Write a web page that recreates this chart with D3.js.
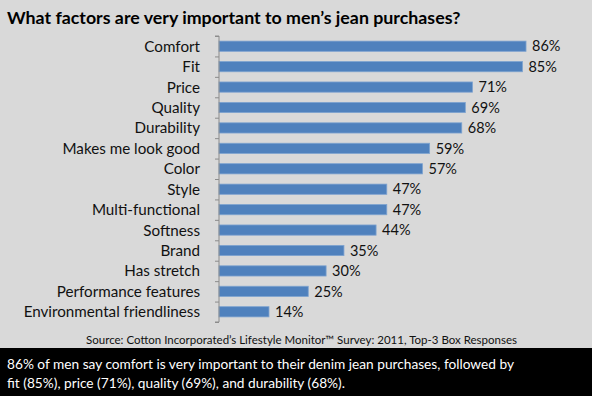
<!DOCTYPE html>
<html>
<head>
<meta charset="utf-8">
<script src="https://cdn.jsdelivr.net/npm/d3@7"></script>
<style>
  body { margin: 0; background: #d9d9d9; }
  svg { display: block; }
</style>
</head>
<body>
<svg id="chart" width="592" height="396"></svg>
<script>
const categories = ["Comfort", "Fit", "Price", "Quality", "Durability", "Makes me look good", "Color",
  "Style", "Multi-functional", "Softness", "Brand", "Has stretch", "Performance features", "Environmental friendliness"];
const values = [86, 85, 71, 69, 68, 59, 57, 47, 47, 44, 35, 30, 25, 14];

const title = "What factors are very important to men\u2019s jean purchases?";
const source = "Source: Cotton Incorporated\u2019s Lifestyle Monitor\u2122 Survey: 2011, Top-3 Box Responses";
const note = ["86% of men say comfort is very important to their denim jean purchases, followed by",
  "fit (85%), price (71%), quality (69%), and durability (68%)."];

const svg = d3.select("#chart");
const width = +svg.attr("width");
const height = +svg.attr("height");
const font = "Lato, 'Open Sans', sans-serif";

svg.append("rect").attr("width", width).attr("height", height).attr("fill", "#d9d9d9");

const margin = { top: 36, left: 219 };
const xScale = d3.scaleLinear().domain([0, 100]).range([margin.left, margin.left + 357]);
const yScale = d3.scaleBand().domain(categories).range([36, 322]).paddingInner(0.5).paddingOuter(0.25);

// title
svg.append("text")
  .attr("x", 7).attr("y", 24)
  .attr("font-family", font).attr("font-weight", "bold").attr("font-size", 17.8)
  .attr("fill", "#000")
  .text(title);

// bars
svg.selectAll("rect.bar")
  .data(values)
  .enter()
  .append("rect")
  .attr("class", "bar")
  .attr("x", xScale(0))
  .attr("y", (d, i) => yScale(categories[i]))
  .attr("width", d => xScale(d) - xScale(0))
  .attr("height", yScale.bandwidth())
  .attr("fill", "#4f81bd")
  .attr("stroke", "#7ea3d0")
  .attr("stroke-width", 0.8);

// value labels
svg.selectAll("text.val")
  .data(values)
  .enter()
  .append("text")
  .attr("class", "val")
  .attr("x", d => xScale(d) + 6)
  .attr("y", (d, i) => yScale(categories[i]) + yScale.bandwidth() / 2)
  .attr("dy", "0.36em")
  .attr("font-family", font).attr("font-size", 14.5)
  .attr("fill", "#111")
  .text(d => d + "%");

// y axis
const yAxisScale = d3.scaleLinear().domain([0, categories.length]).range([36, 322]);
const axis = svg.append("g")
  .attr("transform", `translate(${margin.left},0)`)
  .call(d3.axisLeft(yAxisScale).ticks(categories.length).tickSize(4).tickFormat(""));
axis.select(".domain").attr("stroke", "#8c8c8c").attr("d", `M-4,36H0V322H-4`);
axis.selectAll(".tick line").attr("stroke", "#8c8c8c");

svg.selectAll("text.cat")
  .data(categories)
  .enter()
  .append("text")
  .attr("class", "cat")
  .attr("x", 200)
  .attr("y", d => yScale(d) + yScale.bandwidth() / 2)
  .attr("dy", "0.36em")
  .attr("text-anchor", "end")
  .attr("font-family", font).attr("font-size", 15.2)
  .attr("fill", "#111")
  .text(d => d);

// source
svg.append("text")
  .attr("x", 517).attr("y", 344)
  .attr("text-anchor", "end")
  .attr("font-family", font).attr("font-size", 11.5)
  .attr("fill", "#111")
  .text(source);

// note box
svg.append("rect").attr("x", 0).attr("y", 348).attr("width", width).attr("height", height - 348).attr("fill", "#000");
svg.selectAll("text.note")
  .data(note)
  .enter()
  .append("text")
  .attr("class", "note")
  .attr("x", 7)
  .attr("y", (d, i) => 369 + i * 19)
  .attr("font-family", font).attr("font-size", 13.7)
  .attr("fill", "#fff")
  .text(d => d);
</script>
</body>
</html>
